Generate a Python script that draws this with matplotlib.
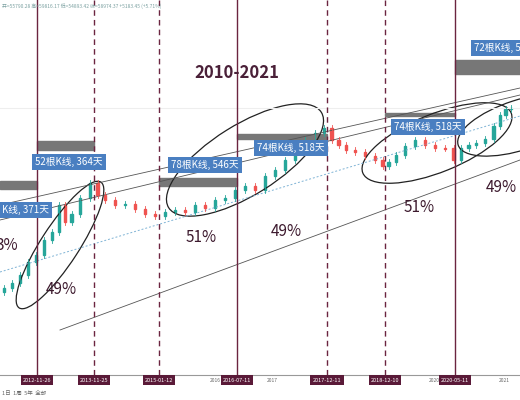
import numpy as np
import matplotlib.pyplot as plt
from matplotlib.patches import Ellipse, Rectangle

plt.rcParams['font.family'] = ['Noto Sans CJK SC', 'DejaVu Sans']

# weekly closes, in screen units (y grows downward)
close_x = [0, 8, 16, 24, 32, 40, 48, 56, 62, 68, 75, 85, 95, 100, 110, 120, 130, 140,
           150, 160, 170, 180, 190, 200, 210, 220, 230, 240, 250, 260, 270, 280, 290,
           300, 310, 320, 328, 335, 342, 350, 360, 370, 380, 385, 392, 400, 410, 420,
           430, 440, 450, 457, 465, 472, 480, 490, 497, 503, 508, 514]
close_y = [292, 288, 283, 275, 262, 255, 240, 232, 205, 222, 214, 198, 183, 195, 200, 205, 204, 209,
           214, 216, 212, 210, 212, 205, 208, 200, 198, 190, 186, 190, 176, 170, 160,
           150, 140, 133, 128, 140, 145, 150, 152, 156, 160, 166, 162, 155, 146, 140,
           145, 148, 148, 160, 148, 145, 143, 139, 126, 115, 109, 108]

vlines_solid = [37, 237, 455]
vlines_dashed = [94, 159, 327, 385]
date_labels = ['2012-11-26', '2013-11-25', '2015-01-12', '2016-07-11', '2017-12-11', '2018-12-10', '2020-05-11']
date_x = [37, 94, 159, 237, 327, 385, 455]
year_labels = ['2016', '2017', '2020', '2021']
year_x = [215, 272, 434, 504]

bars = [(0, 37, 181, 189), (37, 94, 141, 150), (159, 237, 178, 186),
        (237, 327, 134, 139), (385, 455, 113, 116), (455, 520, 60, 74)]
box_text = ['K线, 371天', '52根K线, 364天', '78根K线, 546天', '74根K线, 518天', '74根K线, 518天', '72根K线, 50']
box_pos = [(0, 210), (33, 162), (169, 165), (255, 148), (392, 127), (472, 48)]
pct_text = ['3%', '49%', '51%', '49%', '51%', '49%']
pct_pos = [(-4, 245), (46, 290), (186, 238), (271, 232), (404, 208), (486, 188)]

fig = plt.figure(figsize=(5.2, 4.0), dpi=100)
ax = fig.add_axes([0, 0, 1, 1])
ax.set_xlim(0, 520)
ax.set_ylim(400, 0)
ax.axis('off')

ax.axhline(108, color='#eeeeee', lw=0.8)
ax.plot([0, 520], [375, 375], color='#999999', lw=0.8)

# channel
ax.plot([0, 520], [205, 88], color='#555555', lw=0.6)
ax.plot([0, 520], [220, 95], color='#555555', lw=0.6)
ax.plot([60, 520], [330, 160], color='#555555', lw=0.6)
ax.plot([0, 520], [272, 116], color='#7fb3d5', lw=0.7, ls=(0, (2, 2)))

# candles
cx = np.array(close_x, dtype=float)
cy = np.array(close_y, dtype=float)
for i in range(1, len(cx)):
    o, c = cy[i - 1], cy[i]
    col = '#26a69a' if c < o else '#ef5350'
    xm = (cx[i - 1] + cx[i]) / 2
    ax.plot([xm, xm], [min(o, c) - 3, max(o, c) + 3], color=col, lw=0.6)
    ax.add_patch(Rectangle((xm - 1.2, min(o, c)), 2.4, max(abs(c - o), 0.8), color=col))

for x in vlines_solid:
    ax.plot([x, x], [0, 375], color='#6b2440', lw=1)
for x in vlines_dashed:
    ax.plot([x, x], [0, 375], color='#6b2440', lw=1, ls=(0, (4, 3)))

for x0, x1, y0, y1 in bars:
    ax.add_patch(Rectangle((x0, y0), x1 - x0, y1 - y0, color='#777777'))

for t, (x, y) in zip(box_text, box_pos):
    ax.text(x + 2, y, t, fontsize=7, color='white', va='center', ha='left',
            bbox=dict(boxstyle='square,pad=0.35', fc='#4a7fc1', ec='none'))

for t, (x, y) in zip(pct_text, pct_pos):
    ax.text(x, y, t, fontsize=11, color='#3d1a2e', va='center', ha='left')

for e in [((60, 245), 150, 38, 57), ((245, 160), 180, 70, 32), ((437, 143), 160, 58, 22), ((520, 125), 130, 50, 18)]:
    ax.add_patch(Ellipse(e[0], e[1], e[2], angle=-e[3], fill=False, ec='#222222', lw=0.9))

ax.text(237, 73, '2010-2021', fontsize=12, fontweight='bold', color='#4a2038', ha='center', va='center')

for t, x in zip(date_labels, date_x):
    ax.text(x, 380, t, fontsize=4, color='white', ha='center', va='center',
            bbox=dict(boxstyle='square,pad=0.4', fc='#5a1a38', ec='none'))
for t, x in zip(year_labels, year_x):
    ax.text(x, 380, t, fontsize=3.5, color='#666666', ha='center', va='center')

ax.text(2, 6, '开=55790.28 高=59816.17 低=54893.42 收=58974.37 +5183.45 (+5.71%)', fontsize=3.5, color='#7aa0a0', va='center')
ax.text(2, 393, '1日  1周  5年  全部', fontsize=4, color='#666666', va='center')

fig.savefig('out.png', dpi=100)
